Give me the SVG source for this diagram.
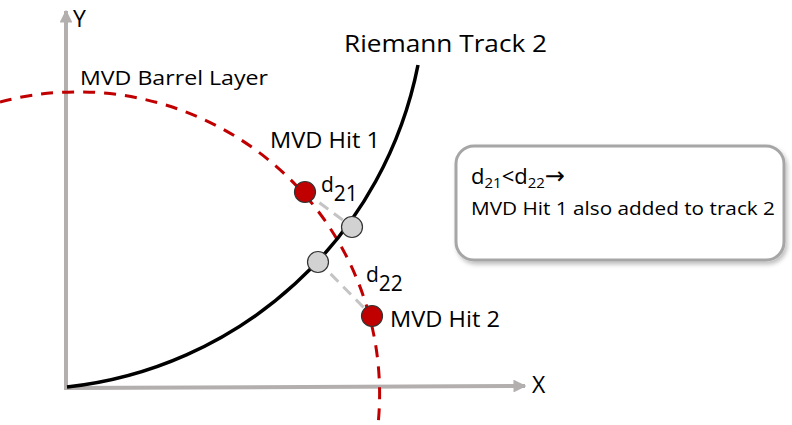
<svg xmlns="http://www.w3.org/2000/svg" width="792" height="425" viewBox="0 0 792 425">
  <defs>
    <marker id="axisHead" viewBox="0 0 10 10" refX="9" refY="5" markerWidth="3.2" markerHeight="3.2" orient="auto" markerUnits="strokeWidth">
      <path d="M0,0 L10,5 L0,10 Z" fill="#b2afae"/>
    </marker>
    <filter id="shadow" x="-10%" y="-10%" width="125%" height="130%">
      <feDropShadow dx="2" dy="3" stdDeviation="2" flood-color="#000" flood-opacity="0.25"/>
    </filter>
  </defs>
  <style>
    text { font-family: "Open Sans", "Noto Sans", sans-serif; fill: #000; }
    .axis { stroke: #b2afae; stroke-width: 4; fill: none; }
    .layer { stroke: #c00000; stroke-width: 3; stroke-dasharray: 12 9; fill: none; }
    .track { stroke: #000; stroke-width: 3.5; fill: none; }
    .dist { stroke: #c4c4c4; stroke-width: 3; stroke-dasharray: 11 7; fill: none; }
    .hit { fill: #c00000; stroke: #333; stroke-width: 1.2; }
    .proj { fill: #d3d2d2; stroke: #333; stroke-width: 1.2; }
  </style>
  <rect width="792" height="425" fill="#fff"/>

  <!-- axes -->
  <g id="axes">
    <path class="axis" d="M66,389 L66,11" marker-end="url(#axisHead)"/>
    <path class="axis" d="M64,388 L525,386" marker-end="url(#axisHead)"/>
    <text x="73" y="27" font-size="23">Y</text>
    <text x="532" y="393" font-size="23">X</text>
  </g>

  <!-- detector layer and track -->
  <g id="barrel-layer">
    <path class="layer" d="M0,102 A302,302 0 0 1 378,425"/>
    <text x="80" y="85" font-size="20.5" textLength="188" lengthAdjust="spacingAndGlyphs">MVD Barrel Layer</text>
  </g>
  <g id="riemann-track">
    <path class="track" d="M67,387 A402,402 0 0 0 418,65"/>
    <text x="344" y="52" font-size="24" textLength="203" lengthAdjust="spacingAndGlyphs">Riemann Track 2</text>
  </g>

  <!-- distances from hits to track -->
  <g id="connectors">
    <line class="dist" x1="305" y1="192" x2="352" y2="227"/>
    <line class="dist" x1="318" y1="261" x2="372" y2="316"/>
  </g>

  <g id="proj-1"><circle class="proj" cx="352" cy="227" r="10.5"/></g>
  <g id="proj-2"><circle class="proj" cx="318" cy="262" r="10.5"/></g>

  <g id="hit-1">
    <circle class="hit" cx="305" cy="192" r="10.5"/>
    <text x="270" y="148" font-size="21" textLength="110" lengthAdjust="spacingAndGlyphs">MVD Hit 1</text>
  </g>
  <g id="hit-2">
    <circle class="hit" cx="372" cy="316" r="10.5"/>
    <text x="390" y="327" font-size="21" textLength="110" lengthAdjust="spacingAndGlyphs">MVD Hit 2</text>
  </g>

  <g id="d21">
    <text x="321" y="192" font-size="21">d<tspan dy="9">21</tspan></text>
  </g>
  <g id="d22">
    <text x="366" y="282" font-size="21">d<tspan dy="9">22</tspan></text>
  </g>

  <!-- note box -->
  <g id="note">
    <rect x="456" y="146" width="328" height="114" rx="18" fill="#fff" stroke="#a6a6a6" stroke-width="3" filter="url(#shadow)"/>
    <text x="471" y="184" font-size="22">d<tspan font-size="15" dy="4">21</tspan><tspan dy="-4">&lt;d</tspan><tspan font-size="15" dy="4">22</tspan><tspan dy="-4" font-size="24" font-family="DejaVu Sans, sans-serif">→</tspan></text>
    <text x="471" y="215" font-size="19" textLength="304" lengthAdjust="spacingAndGlyphs">MVD Hit 1 also added to track 2</text>
  </g>
</svg>
